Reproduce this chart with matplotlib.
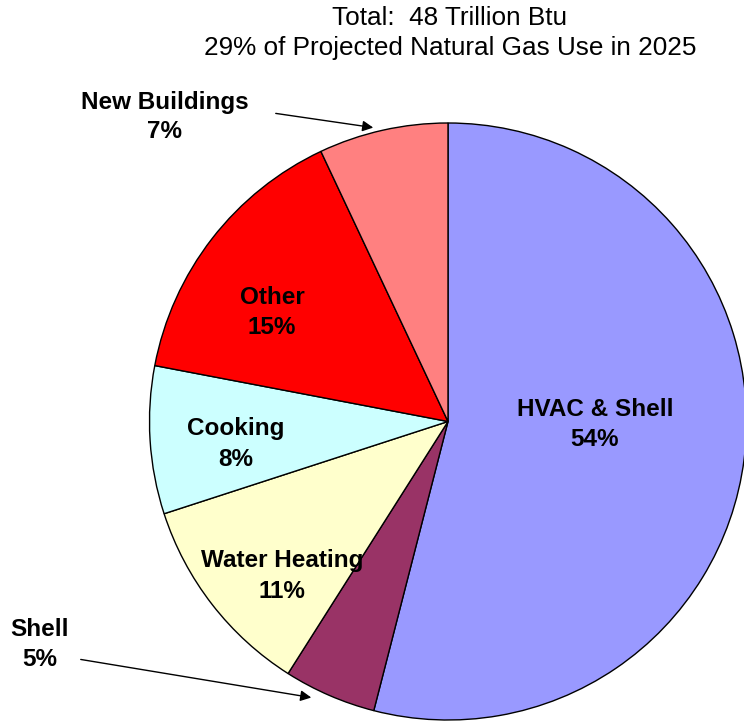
import matplotlib.pyplot as plt

plt.rcParams['font.family'] = ['Liberation Sans', 'DejaVu Sans']

categories = ["HVAC & Shell", "Shell", "Water Heating", "Cooking", "Other", "New Buildings"]
shares = [54, 5, 11, 8, 15, 7]
colors = ["#9999FF", "#993366", "#FFFFCC", "#CCFFFF", "#FF0000", "#FF8080"]
title_lines = ["Total:  48 Trillion Btu", "29% of Projected Natural Gas Use in 2025"]

W, H = 744, 723
fig = plt.figure(figsize=(W / 100, H / 100), dpi=100)
ax = fig.add_axes([0, 0, 1, 1])

cx, cy, r = 448, H - 421.5, 298.5
ax.pie(shares, colors=colors, startangle=90, counterclock=False,
       center=(cx, cy), radius=r, frame=True,
       wedgeprops=dict(edgecolor='black', linewidth=1.0))
ax.set_xlim(0, W)
ax.set_ylim(0, H)
ax.set_aspect('equal')
ax.axis('off')

# titles
ax.text(450, H - 18, title_lines[0], ha='center', va='center', fontsize=18.8)
ax.text(450, H - 48, title_lines[1], ha='center', va='center', fontsize=18.8)

lab = dict(ha='center', va='center', fontsize=17.5, fontweight='bold')


def two_line(i, x, y_top, gap=31):
    ax.text(x, H - y_top, categories[i], **lab)
    ax.text(x, H - (y_top + gap), f"{shares[i]}%", **lab)


two_line(0, 595, 409)
two_line(2, 282, 560)
two_line(3, 236, 429)
two_line(4, 272, 297)

# outside labels with arrows
two_line(5, 165, 102, gap=29)
ax.annotate("", xy=(376, H - 128), xytext=(273, H - 113),
            arrowprops=dict(arrowstyle='-|>', color='black', lw=1.0,
                            mutation_scale=16))
two_line(1, 40, 629)
ax.annotate("", xy=(314, H - 698), xytext=(78, H - 659),
            arrowprops=dict(arrowstyle='-|>', color='black', lw=1.0,
                            mutation_scale=16))

fig.savefig("out.png", dpi=100)
